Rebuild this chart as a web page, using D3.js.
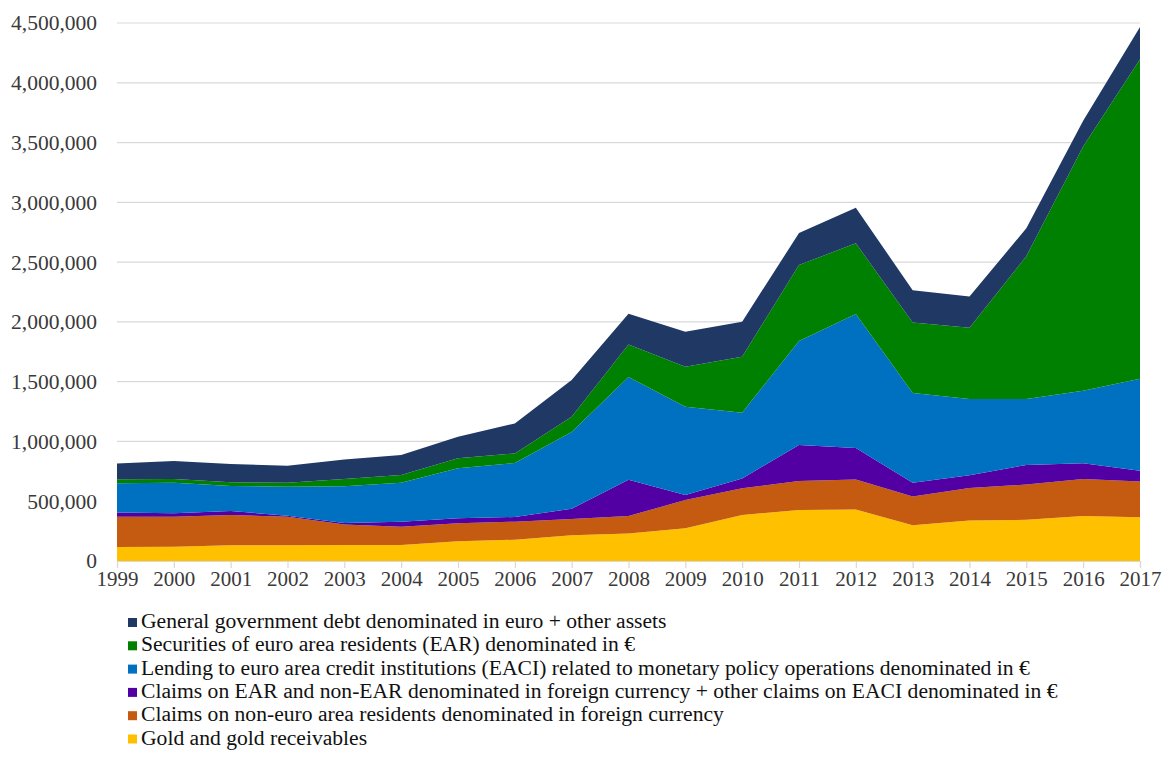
<!DOCTYPE html>
<html>
<head>
<meta charset="utf-8">
<script src="https://cdn.jsdelivr.net/npm/d3@7.9.0/dist/d3.min.js"></script>
<style>
  body { margin: 0; background: #fff; }
  svg { display: block; }
</style>
</head>
<body>
<svg id="chart" width="1167" height="758"></svg>
<script>
// years on the x axis
const years = [1999, 2000, 2001, 2002, 2003, 2004, 2005, 2006, 2007, 2008,
               2009, 2010, 2011, 2012, 2013, 2014, 2015, 2016, 2017];

// values in EUR million, bottom layer first
const gold      = [118, 120, 131, 131, 133, 134, 165, 178, 215, 230, 274, 385, 427, 430, 300, 338, 345, 376, 365].map(v => v * 1000);
const nonEuroFx = [253, 251, 254, 240, 172, 153, 150, 151, 137, 146, 236, 223, 242, 252, 240, 272, 295, 310, 300].map(v => v * 1000);
const fxClaims  = [34, 28, 33, 8, 13, 42, 42, 39, 84, 304, 42, 83, 301, 263, 115, 108, 164, 131, 90].map(v => v * 1000);
const lending   = [245, 256, 209, 243, 307, 326, 418, 452, 644, 860, 739, 550, 870, 1120, 750, 637, 550, 608, 770].map(v => v * 1000);
const securities = [33, 31, 31, 33, 60, 64, 84, 80, 127, 270, 334, 468, 636, 592, 590, 595, 1196, 2041, 2671].map(v => v * 1000);
const govDebt   = [132, 150, 153, 142, 163, 168, 181, 251, 307, 258, 293, 293, 267, 298, 269, 262, 233, 217, 270].map(v => v * 1000);

const yTicks = [0, 500000, 1000000, 1500000, 2000000, 2500000, 3000000, 3500000, 4000000, 4500000];

// stacking order (bottom -> top)
const seriesKeys = ["gold", "nonEuroFx", "fxClaims", "lending", "securities", "govDebt"];
const seriesData = { gold, nonEuroFx, fxClaims, lending, securities, govDebt };
const colors = {
  gold: "#ffc000",
  nonEuroFx: "#c55a11",
  fxClaims: "#5200a3",
  lending: "#0070c0",
  securities: "#008000",
  govDebt: "#203864"
};
// legend shows top layer first
const legendItems = [
  ["govDebt", "General government debt denominated in euro + other assets"],
  ["securities", "Securities of euro area residents (EAR) denominated in \u20ac"],
  ["lending", "Lending to euro area credit institutions (EACI) related to monetary policy operations denominated in \u20ac"],
  ["fxClaims", "Claims on EAR and non-EAR denominated in foreign currency + other claims on EACI denominated in \u20ac"],
  ["nonEuroFx", "Claims on non-euro area residents denominated in foreign currency"],
  ["gold", "Gold and gold receivables"]
];

const table = years.map((yr, i) => {
  const row = { year: yr };
  seriesKeys.forEach(k => row[k] = seriesData[k][i]);
  return row;
});

const svg = d3.select("#chart");
const font = "'Liberation Serif', 'Times New Roman', serif";

const x = d3.scaleLinear().domain([1999, 2017]).range([117, 1140]);
const y = d3.scaleLinear().domain([0, 4500000]).range([561, 23]);

// gridlines
svg.append("g")
  .selectAll("line")
  .data(yTicks.slice(1))
  .join("line")
  .attr("x1", x(1999)).attr("x2", x(2017))
  .attr("y1", d => y(d)).attr("y2", d => y(d))
  .attr("stroke", "#d9d9d9").attr("stroke-width", 1.2);

// stacked areas
const stack = d3.stack().keys(seriesKeys);
const layers = stack(table);
const area = d3.area()
  .x(d => x(d.data.year))
  .y0(d => y(d[0]))
  .y1(d => y(d[1]));

svg.append("g")
  .selectAll("path")
  .data(layers)
  .join("path")
  .attr("d", area)
  .attr("fill", d => colors[d.key]);

// y axis labels
const yAxis = d3.axisLeft(y)
  .tickValues(yTicks)
  .tickFormat(d3.format(","))
  .tickSize(0)
  .tickPadding(20);
const gy = svg.append("g").attr("transform", `translate(${x(1999)},0)`).call(yAxis);
gy.select(".domain").remove();
gy.selectAll("text")
  .attr("font-family", font)
  .attr("font-size", 21.5)
  .attr("fill", "#3a3a3a");

// x axis
const xAxis = d3.axisBottom(x)
  .tickValues(years)
  .tickFormat(d3.format("d"))
  .tickSize(7)
  .tickPadding(3);
const gx = svg.append("g").attr("transform", `translate(0,${y(0)})`).call(xAxis);
gx.select(".domain").attr("stroke", "#d9d9d9").attr("stroke-width", 1.2);
gx.selectAll(".tick line").attr("stroke", "#d9d9d9").attr("stroke-width", 1.2);
gx.selectAll("text")
  .attr("font-family", font)
  .attr("font-size", 21)
  .attr("fill", "#3a3a3a");

// legend
const legend = svg.append("g").attr("transform", "translate(128,628)");
const li = legend.selectAll("g")
  .data(legendItems)
  .join("g")
  .attr("transform", (d, i) => `translate(0,${i * 23.3})`);
li.append("rect")
  .attr("x", 0).attr("y", -10)
  .attr("width", 9).attr("height", 9)
  .attr("fill", d => colors[d[0]]);
li.append("text")
  .attr("x", 13)
  .attr("y", 0)
  .attr("font-family", font)
  .attr("font-size", 21.6)
  .attr("fill", "#111")
  .text(d => d[1]);
</script>
</body>
</html>
